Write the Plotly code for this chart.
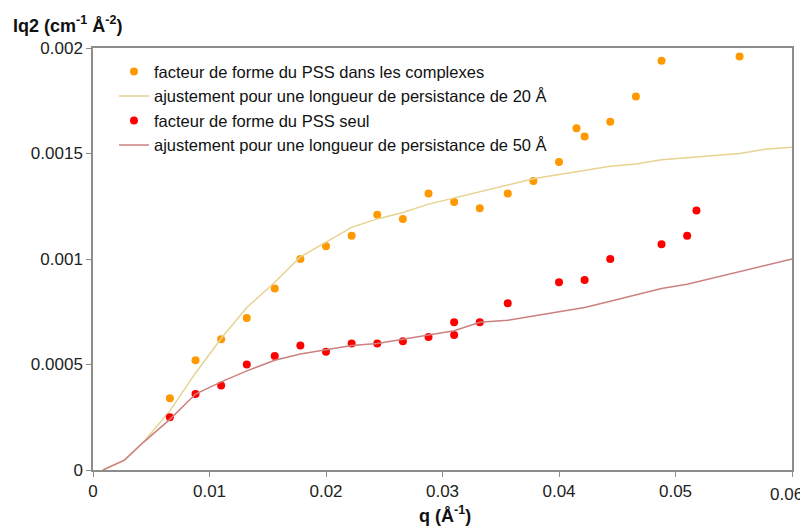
import plotly.graph_objects as go

# Data: PSS form factor in complexes (orange) and alone (red)
q_complex = [0.0066, 0.0088, 0.0110, 0.0132, 0.0156, 0.0178, 0.0200, 0.0222, 0.0244, 0.0266,
             0.0288, 0.0310, 0.0332, 0.0356, 0.0378, 0.0400, 0.0415, 0.0422, 0.0444, 0.0466,
             0.0488, 0.0555]
i_complex = [0.00034, 0.00052, 0.00062, 0.00072, 0.00086, 0.00100, 0.00106, 0.00111, 0.00121, 0.00119,
             0.00131, 0.00127, 0.00124, 0.00131, 0.00137, 0.00146, 0.00162, 0.00158, 0.00165, 0.00177,
             0.00194, 0.00196]

q_seul = [0.0066, 0.0088, 0.0110, 0.0132, 0.0156, 0.0178, 0.0200, 0.0222, 0.0244, 0.0266,
          0.0288, 0.0310, 0.0310, 0.0332, 0.0356, 0.0400, 0.0422, 0.0444, 0.0488, 0.0510, 0.0518]
i_seul = [0.00025, 0.00036, 0.00040, 0.00050, 0.00054, 0.00059, 0.00056, 0.00060, 0.00060, 0.00061,
          0.00063, 0.00070, 0.00064, 0.00070, 0.00079, 0.00089, 0.00090, 0.00100, 0.00107, 0.00111, 0.00123]

q_fit = [0.00085, 0.0027, 0.0043, 0.0066, 0.0088, 0.0111, 0.0132, 0.0156, 0.0178, 0.0200,
         0.0222, 0.0244, 0.0266, 0.0288, 0.0310, 0.0332, 0.0356, 0.0378, 0.0400, 0.0422,
         0.0444, 0.0466, 0.0488, 0.0510, 0.0532, 0.0555, 0.0577, 0.0600]
fit_20 = [0, 0.000047, 0.00013, 0.00028, 0.00046, 0.00063, 0.00077, 0.00089, 0.00101, 0.00108,
          0.00115, 0.00119, 0.00122, 0.00126, 0.00129, 0.00132, 0.00135, 0.00138, 0.00140, 0.00142,
          0.00144, 0.00145, 0.00147, 0.00148, 0.00149, 0.00150, 0.00152, 0.00153]
fit_50 = [0, 0.000047, 0.00013, 0.00024, 0.00036, 0.00042, 0.00047, 0.00052, 0.00055, 0.00057,
          0.00059, 0.00060, 0.00062, 0.00064, 0.00066, 0.00070, 0.00071, 0.00073, 0.00075, 0.00077,
          0.00080, 0.00083, 0.00086, 0.00088, 0.00091, 0.00094, 0.00097, 0.00100]

x_ticks = [0, 0.01, 0.02, 0.03, 0.04, 0.05, 0.06]
x_labels = ["0", "0.01", "0.02", "0.03", "0.04", "0.05", "0.06"]
y_ticks = [0, 0.0005, 0.001, 0.0015, 0.002]
y_labels = ["0", "0.0005", "0.001", "0.0015", "0.002"]

names = ["facteur de forme du PSS dans les complexes",
         "ajustement pour une longueur de persistance de 20 Å",
         "facteur de forme du PSS seul",
         "ajustement pour une longueur de persistance de 50 Å"]

fig = go.Figure()
fig.add_trace(go.Scatter(x=q_complex, y=i_complex, mode="markers", name=names[0],
                         marker=dict(color="#FF9900", size=8)))
fig.add_trace(go.Scatter(x=q_fit, y=fit_20, mode="lines", name=names[1],
                         line=dict(color="#E6D391", width=1.5)))
fig.add_trace(go.Scatter(x=q_seul, y=i_seul, mode="markers", name=names[2],
                         marker=dict(color="#FF0000", size=8)))
fig.add_trace(go.Scatter(x=q_fit, y=fit_50, mode="lines", name=names[3],
                         line=dict(color="#CC8080", width=1.5)))

tick_font = dict(family="Liberation Sans, Arial", size=17, color="#222")
axis_common = dict(showgrid=False, zeroline=False, showline=True, linecolor="#8c8c8c",
                   linewidth=1.5, mirror=True, ticks="outside", ticklen=5, tickcolor="#8c8c8c",
                   tickfont=tick_font)

# the last x label sits at the figure edge; it is drawn as an annotation so it is not dropped
fig.update_xaxes(range=[0, 0.06], tickvals=x_ticks, ticktext=x_labels[:-1] + [""], **axis_common)
fig.update_yaxes(range=[0, 0.002], tickvals=y_ticks, ticktext=y_labels, **axis_common)

# page body adds an 8px margin: figure is 800x520, drawn from (8, 8)
fig.update_layout(
    width=800, height=520,
    margin=dict(l=85, r=16, t=40, b=58),
    plot_bgcolor="white", paper_bgcolor="white",
    font=dict(family="Liberation Sans, Arial", size=16.5, color="#111"),
    showlegend=True,
    legend=dict(x=0.03, y=0.985, xanchor="left", yanchor="top",
                bgcolor="rgba(255,255,255,0)", borderwidth=0,
                font=dict(size=16.5), tracegroupgap=0, itemwidth=30),
    annotations=[
        dict(text="<b>Iq2 (cm<sup>-1</sup> Å<sup>-2</sup>)</b>", xref="paper", yref="paper",
             x=-0.118, y=1.055, xanchor="left", yanchor="middle", showarrow=False,
             font=dict(size=18, color="#111")),
        dict(text="<b>q (Å<sup>-1</sup>)</b>", xref="paper", yref="paper",
             x=0.503, y=-0.105, xanchor="center", yanchor="middle", showarrow=False,
             font=dict(size=18, color="#111")),
        dict(text=x_labels[-1], xref="x", yref="paper", x=x_ticks[-1], y=-0.058,
             xanchor="center", yanchor="middle", showarrow=False, xshift=-6,
             font=tick_font),
    ],
)

fig.write_html("out.html")
